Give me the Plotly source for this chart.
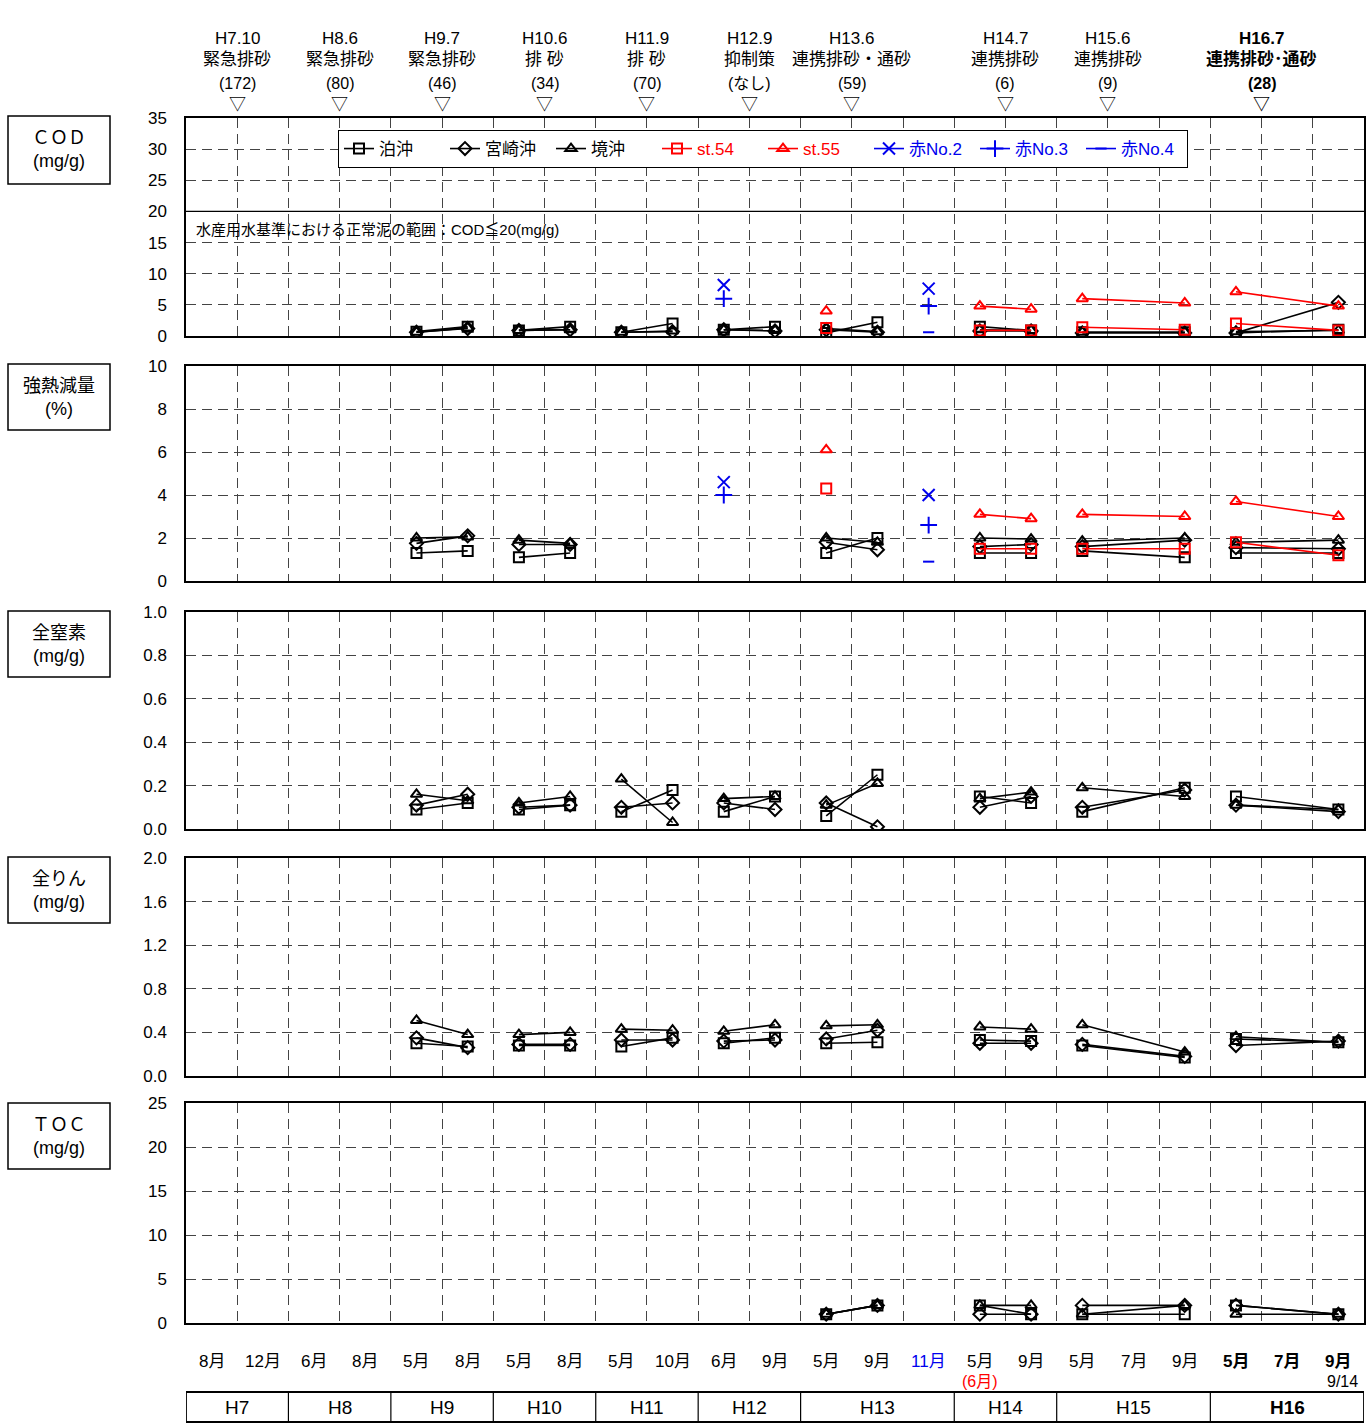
import plotly.graph_objects as go

W, H = 1366, 1427
FONT = "Arial, 'Liberation Sans', 'Noto Sans CJK JP', sans-serif"

# ---------------- data ----------------
months = ["8月", "12月", "6月", "8月", "5月", "8月", "5月", "8月", "5月", "10月", "6月", "9月",
          "5月", "9月", "11月", "5月", "9月", "5月", "7月", "9月", "5月", "7月", "9月"]
years = ["H7", "H8", "H9", "H10", "H11", "H12", "H13", "H14", "H15", "H16"]
year_cells = [2, 2, 2, 2, 2, 2, 3, 2, 3, 3]

events_date = ["H7.10", "H8.6", "H9.7", "H10.6", "H11.9", "H12.9", "H13.6", "H14.7", "H15.6", "H16.7"]
events_kind = ["緊急排砂", "緊急排砂", "緊急排砂", "排 砂", "排 砂", "抑制策", "連携排砂・通砂", "連携排砂", "連携排砂", "連携排砂･通砂"]
events_vol = ["(172)", "(80)", "(46)", "(34)", "(70)", "(なし)", "(59)", "(6)", "(9)", "(28)"]
events_pos = [0.5, 2.5, 4.5, 6.5, 8.5, 10.5, 12.5, 15.5, 17.5, 20.5]

N = None
# COD (mg/g)
cod_tomari  = [N, N, N, N, 0.7, 1.5, 0.9, 1.5, 0.6, 2.0, 1.0, 1.5, 0.5, 2.2, N, 1.5, 0.9, 0.6, N, 0.6, 0.5, N, 1.0]
cod_miyazaki= [N, N, N, N, 0.6, 1.2, 0.9, 1.0, 0.6, 0.7, 1.0, 0.8, 1.0, 0.6, N, 0.8, 0.8, 0.5, N, 0.5, 0.5, N, 5.4]
cod_sakai   = [N, N, N, N, 0.6, 1.3, 0.9, 1.0, 0.6, 0.8, 1.0, 0.9, 1.2, 0.7, N, 1.0, 0.9, 0.6, N, 0.6, 0.7, N, 0.9]
cod_st54    = [N, N, N, N, N, N, N, N, N, N, N, N, 1.3, N, N, 0.9, 0.9, 1.4, N, 1.0, 2.0, N, 0.9]
cod_st55    = [N, N, N, N, N, N, N, N, N, N, N, N, 4.0, N, N, 4.8, 4.3, 6.0, N, 5.3, 7.1, N, 4.8]
cod_aka2    = [N, N, N, N, N, N, N, N, N, N, 8.2, N, N, N, 7.6, N, N, N, N, N, N, N, N]
cod_aka3    = [N, N, N, N, N, N, N, N, N, N, 6.0, N, N, N, 4.8, N, N, N, N, N, N, N, N]
cod_aka4    = [N, N, N, N, N, N, N, N, N, N, N, N, N, N, 0.6, N, N, N, N, N, N, N, N]

# 強熱減量 (%)
il_tomari   = [N, N, N, N, 1.3, 1.4, 1.1, 1.3, N, N, N, N, 1.3, 2.0, N, 1.3, 1.3, 1.4, N, 1.1, 1.3, N, 1.3]
il_miyazaki = [N, N, N, N, 1.75, 2.1, 1.7, 1.7, N, N, N, N, 1.8, 1.45, N, 1.6, 1.7, 1.6, N, 1.9, 1.55, N, 1.5]
il_sakai    = [N, N, N, N, 2.0, 2.05, 1.9, 1.75, N, N, N, N, 2.0, 1.8, N, 2.0, 1.95, 1.85, N, 2.0, 1.8, N, 1.9]
il_st54     = [N, N, N, N, N, N, N, N, N, N, N, N, 4.3, N, N, 1.5, 1.5, 1.5, N, 1.5, 1.8, N, 1.2]
il_st55     = [N, N, N, N, N, N, N, N, N, N, N, N, 6.1, N, N, 3.1, 2.9, 3.1, N, 3.0, 3.7, N, 3.0]
il_aka2     = [N, N, N, N, N, N, N, N, N, N, 4.6, N, N, N, 4.0, N, N, N, N, N, N, N, N]
il_aka3     = [N, N, N, N, N, N, N, N, N, N, 4.0, N, N, N, 2.6, N, N, N, N, N, N, N, N]
il_aka4     = [N, N, N, N, N, N, N, N, N, N, N, N, N, N, 0.9, N, N, N, N, N, N, N, N]

# 全窒素 (mg/g)
tn_tomari   = [N, N, N, N, 0.09, 0.12, 0.09, 0.11, 0.08, 0.18, 0.08, 0.15, 0.06, 0.25, N, 0.15, 0.12, 0.08, N, 0.19, 0.15, N, 0.09]
tn_miyazaki = [N, N, N, N, 0.11, 0.16, 0.10, 0.11, 0.10, 0.12, 0.12, 0.09, 0.12, 0.01, N, 0.10, 0.15, 0.10, N, 0.18, 0.11, N, 0.08]
tn_sakai    = [N, N, N, N, 0.16, 0.13, 0.12, 0.15, 0.23, 0.03, 0.14, 0.15, 0.11, 0.21, N, 0.14, 0.17, 0.19, N, 0.15, 0.11, N, 0.09]

# 全りん (mg/g)
tp_tomari   = [N, N, N, N, 0.30, 0.27, 0.28, 0.28, 0.27, 0.35, 0.30, 0.35, 0.30, 0.31, N, 0.33, 0.32, 0.28, N, 0.17, 0.34, N, 0.31]
tp_miyazaki = [N, N, N, N, 0.35, 0.26, 0.29, 0.29, 0.33, 0.33, 0.32, 0.33, 0.34, 0.42, N, 0.30, 0.30, 0.29, N, 0.18, 0.28, N, 0.32]
tp_sakai    = [N, N, N, N, 0.51, 0.38, 0.38, 0.40, 0.43, 0.42, 0.41, 0.47, 0.46, 0.47, N, 0.45, 0.43, 0.47, N, 0.22, 0.36, N, 0.31]

# TOC (mg/g)
toc_tomari  = [N, N, N, N, N, N, N, N, N, N, N, N, 1.0, 2.0, N, 2.0, 1.0, 1.0, N, 1.0, 2.0, N, 1.0]
toc_miyazaki= [N, N, N, N, N, N, N, N, N, N, N, N, 1.0, 2.0, N, 1.0, 1.0, 2.0, N, 2.0, 2.0, N, 1.0]
toc_sakai   = [N, N, N, N, N, N, N, N, N, N, N, N, 1.0, 2.0, N, 2.0, 2.0, 1.0, N, 2.0, 1.0, N, 1.0]

# ---------------- helpers ----------------
year_of_cell = []
for yi, n in enumerate(year_cells):
    year_of_cell += [yi] * n


def segs(vals):
    xs, ys, last = [], [], None
    for i, v in enumerate(vals):
        if v is None:
            continue
        if last is not None and year_of_cell[i] != last:
            xs.append(None)
            ys.append(None)
        xs.append(i)
        ys.append(v)
        last = year_of_cell[i]
    return xs, ys


def py(p):  # pixel y -> paper y
    return 1 - p / H


def px(p):
    return p / W


def ann(**kw):
    d = dict(showarrow=False, xanchor="center", yanchor="middle")
    d.update(kw)
    return d


series_style = {
    "泊沖": dict(color="black", symbol="square-open", size=10),
    "宮崎沖": dict(color="black", symbol="diamond-open", size=10),
    "境沖": dict(color="black", symbol="triangle-up-open", size=10),
    "st.54": dict(color="red", symbol="square-open", size=10),
    "st.55": dict(color="red", symbol="triangle-up-open", size=10),
    "赤No.2": dict(color="#0000ee", symbol="x-thin-open", size=12),
    "赤No.3": dict(color="#0000ee", symbol="cross-thin-open", size=12),
    "赤No.4": dict(color="#0000ee", symbol="line-ew-open", size=8),
}

panels = [
    dict(top=118, bot=336, rng=35, dtick=5, fmt="d",
         data={"泊沖": cod_tomari, "宮崎沖": cod_miyazaki, "境沖": cod_sakai, "st.54": cod_st54,
               "st.55": cod_st55, "赤No.2": cod_aka2, "赤No.3": cod_aka3, "赤No.4": cod_aka4},
         label=["ＣＯＤ", "(mg/g)"], box=(116, 184)),
    dict(top=366, bot=581, rng=10, dtick=2, fmt="d",
         data={"泊沖": il_tomari, "宮崎沖": il_miyazaki, "境沖": il_sakai, "st.54": il_st54,
               "st.55": il_st55, "赤No.2": il_aka2, "赤No.3": il_aka3, "赤No.4": il_aka4},
         label=["強熱減量", "(%)"], box=(364, 430)),
    dict(top=612, bot=829, rng=1.0, dtick=0.2, fmt=".1f",
         data={"泊沖": tn_tomari, "宮崎沖": tn_miyazaki, "境沖": tn_sakai},
         label=["全窒素", "(mg/g)"], box=(611, 677)),
    dict(top=858, bot=1076, rng=2.0, dtick=0.4, fmt=".1f",
         data={"泊沖": tp_tomari, "宮崎沖": tp_miyazaki, "境沖": tp_sakai},
         label=["全りん", "(mg/g)"], box=(857, 923)),
    dict(top=1103, bot=1323, rng=25, dtick=5, fmt="d",
         data={"泊沖": toc_tomari, "宮崎沖": toc_miyazaki, "境沖": toc_sakai},
         label=["ＴＯＣ", "(mg/g)"], box=(1103, 1169)),
]

fig = go.Figure()
annotations = []
shapes = []
XL, XR = 186, 1364
grid_x = [i + 0.5 for i in range(22)]

for k, p in enumerate(panels, start=1):
    sfx = "" if k == 1 else str(k)
    for name, vals in p["data"].items():
        st = series_style[name]
        xs, ys = segs(vals)
        lbl = name if st["color"] == "black" else f"<span style='color:{st['color']}'>{name}</span>"
        fig.add_trace(go.Scatter(
            x=xs, y=ys, mode="lines+markers", name=lbl,
            xaxis="x" + sfx, yaxis="y" + sfx, showlegend=(k == 1),
            line=dict(color=st["color"], width=1.6),
            marker=dict(symbol=st["symbol"], size=st["size"], color=st["color"],
                        line=dict(color=st["color"], width=2)),
            connectgaps=False, hoverinfo="x+y",
        ))
    fig.layout["xaxis" + sfx] = dict(
        domain=[px(XL), px(XR)], range=[-0.5, 22.5], anchor="y" + sfx,
        tickvals=grid_x, showticklabels=False, ticks="", automargin=False,
        showgrid=True, gridcolor="#444", gridwidth=1, griddash="10px,6px",
        showline=True, mirror=True, linecolor="black", linewidth=1.5, zeroline=False,
        fixedrange=True,
    )
    fig.layout["yaxis" + sfx] = dict(
        domain=[py(p["bot"]), py(p["top"])], range=[0, p["rng"]], anchor="x" + sfx,
        dtick=p["dtick"], tick0=0, tickformat=p["fmt"], automargin=False,
        showgrid=True, gridcolor="#444", gridwidth=1, griddash="10px,6px",
        showline=True, mirror=True, linecolor="black", linewidth=1.5, zeroline=False,
        ticks="", ticklabelstandoff=14, tickfont=dict(size=17, color="black"),
        fixedrange=True,
    )
    # left label box
    b0, b1 = p["box"]
    shapes.append(dict(type="rect", xref="paper", yref="paper", x0=px(8), x1=px(110),
                       y0=py(b1), y1=py(b0), line=dict(color="black", width=1.5)))
    annotations.append(ann(xref="paper", yref="paper", x=px(59), y=py((b0 + b1) / 2),
                           text=p["label"][0] + "<br>" + p["label"][1],
                           font=dict(size=18, color="black"), align="center"))

# COD 20 reference line and text
shapes.append(dict(type="line", xref="x", yref="y", x0=-0.5, x1=22.5, y0=20, y1=20,
                   line=dict(color="black", width=1.2)))
annotations.append(ann(xref="paper", yref="paper", x=px(194), y=py(230), xanchor="left",
                       text="水産用水基準における正常泥の範囲：COD≦20(mg/g)",
                       font=dict(size=15, color="black")))

# header events
for i, pos in enumerate(events_pos):
    bold = (i == len(events_pos) - 1)
    w = (lambda s: f"<b>{s}</b>") if bold else (lambda s: s)
    for txt, yy, sz in [(events_date[i], 38, 17), (events_kind[i], 59, 17),
                        (events_vol[i], 83, 16), ("▽", 104, 17)]:
        annotations.append(ann(xref="x", yref="paper", x=pos, y=py(yy), text=w(txt),
                               font=dict(size=sz, color="black")))

# month labels
for i, m in enumerate(months):
    color = "#0000ee" if i == 14 else "black"
    t = f"<b>{m}</b>" if i >= 20 else m
    annotations.append(ann(xref="x5", yref="paper", x=i, y=py(1361), text=t,
                           font=dict(size=17, color=color)))
annotations.append(ann(xref="x5", yref="paper", x=15, y=py(1381), text="(6月)",
                       font=dict(size=16, color="red")))
annotations.append(ann(xref="x5", yref="paper", x=22.42, xanchor="right", y=py(1381), text="9/14",
                       font=dict(size=16, color="black")))

# year boxes
yb0, yb1 = 1392, 1422
shapes.append(dict(type="rect", xref="x5", yref="paper", x0=-0.5, x1=22.5, y0=py(yb1), y1=py(yb0),
                   line=dict(color="black", width=1.8)))
start = -0.5
for yi, n in enumerate(year_cells):
    end = start + n
    if yi > 0:
        shapes.append(dict(type="line", xref="x5", yref="paper", x0=start, x1=start,
                           y0=py(yb1), y1=py(yb0), line=dict(color="black", width=1.2)))
    t = f"<b>{years[yi]}</b>" if yi == len(years) - 1 else years[yi]
    annotations.append(ann(xref="x5", yref="paper", x=(start + end) / 2, y=py((yb0 + yb1) / 2),
                           text=t, font=dict(size=19, color="black")))
    start = end

fig.update_layout(
    width=W, height=H, margin=dict(l=0, r=0, t=0, b=0, pad=0, autoexpand=False),
    paper_bgcolor="white", plot_bgcolor="white",
    font=dict(family=FONT, color="black", size=16),
    shapes=shapes, annotations=annotations,
    legend=dict(orientation="h", x=px(338), y=py(130), xanchor="left", yanchor="top",
                bgcolor="white", bordercolor="black", borderwidth=1,
                font=dict(size=17, color="black"), itemwidth=30, tracegroupgap=0,
                entrywidth=61, entrywidthmode="pixels"),
)

fig.write_html("out.html")
